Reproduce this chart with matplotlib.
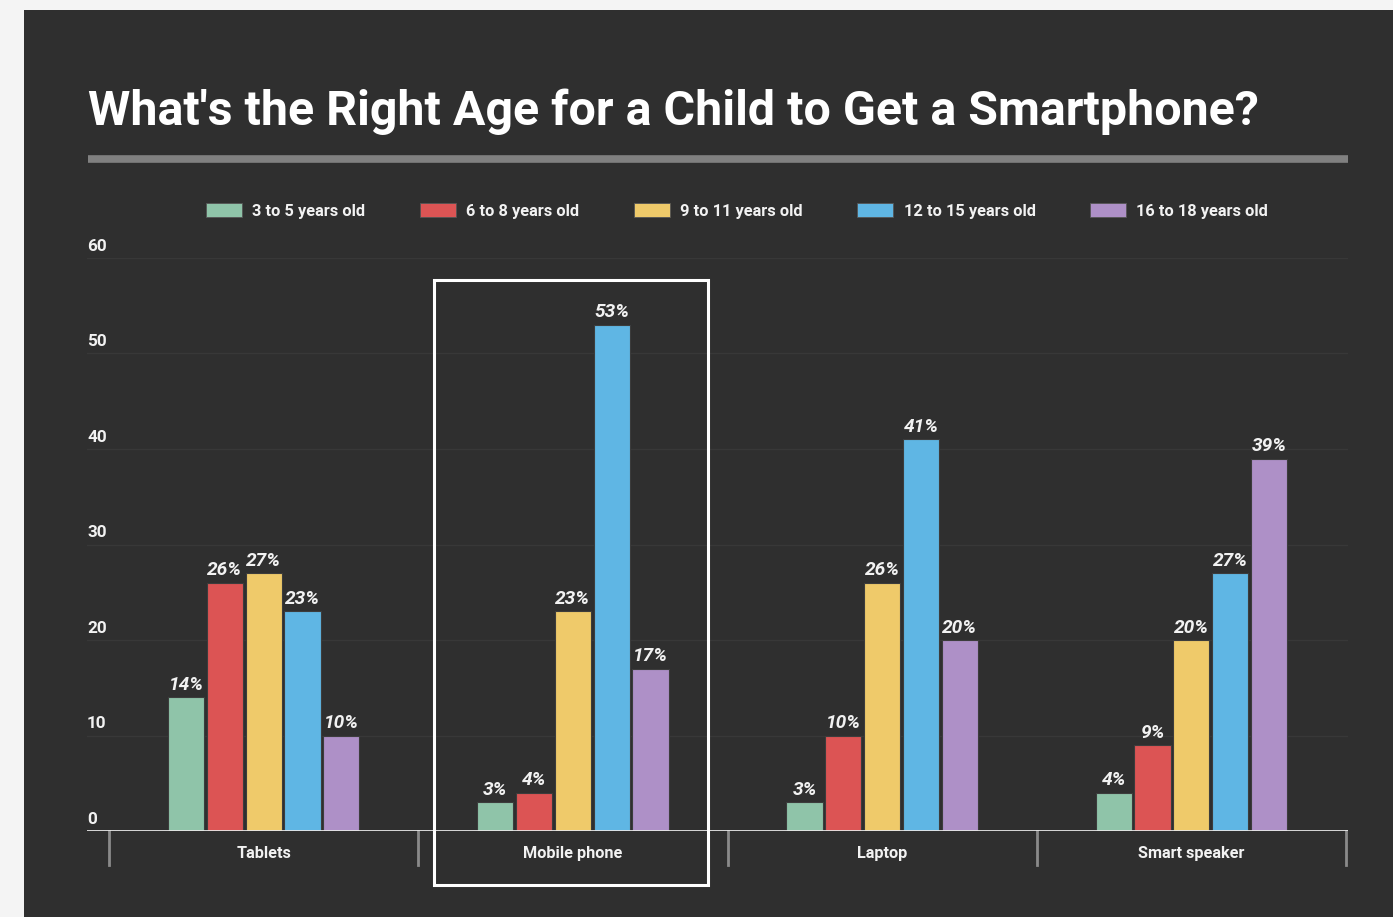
"""
Grouped bar chart: what age parents think is right for a child to get
each kind of device.  Dark card on a light page, rendered to out.png.
"""

import matplotlib

matplotlib.use("Agg")

import matplotlib.pyplot as plt
import numpy as np
from matplotlib.patches import Patch, Rectangle

plt.rcParams["font.family"] = ["Roboto", "DejaVu Sans"]

devices = ["Tablets", "Mobile phone", "Laptop", "Smart speaker"]
age_groups = [
    "3 to 5 years old",
    "6 to 8 years old",
    "9 to 11 years old",
    "12 to 15 years old",
    "16 to 18 years old",
]
# share of respondents (%) per device, one list per age group
age_3_5 = [14, 3, 3, 4]
age_6_8 = [26, 4, 10, 9]
age_9_11 = [27, 23, 26, 20]
age_12_15 = [23, 53, 41, 27]
age_16_18 = [10, 17, 20, 39]
y_ticks = [0, 10, 20, 30, 40, 50, 60]
highlighted = "Mobile phone"

series = [age_3_5, age_6_8, age_9_11, age_12_15, age_16_18]
colors = ["#8fc4a9", "#dc5454", "#efca6a", "#5fb6e4", "#ae90c7"]

PAGE = "#f4f4f4"
CARD = "#2f2f2f"
GRID = "#383838"
TEXT = "#f2f2f2"

fig = plt.figure(figsize=(13.93, 9.17), dpi=100, facecolor=PAGE)

# dark card behind everything
fig.patches.append(
    Rectangle((24 / 1393, 0), 1, 1 - 10 / 917, transform=fig.transFigure,
              facecolor=CARD, edgecolor="none", zorder=-10)
)

fig.text(88 / 1393, 1 - 112 / 917,
         "What's the Right Age for a Child to Get a Smartphone?",
         color="white", fontsize=34.8, fontweight="bold", va="center",
         ha="left")
fig.add_artist(plt.Line2D([88 / 1393, 1348 / 1393],
                          [1 - 159 / 917, 1 - 159 / 917],
                          transform=fig.transFigure, color="#808080", lw=5.5,
                          solid_capstyle="butt"))

ax = fig.add_axes([87 / 1393, 1 - 831 / 917, 1261 / 1393, 573 / 917])
ax.set_facecolor("none")
ax.set_zorder(1)

x = np.arange(len(devices))
n = len(series)
step = 0.1255
width = 0.117
for i, (vals, col, label) in enumerate(zip(series, colors, age_groups)):
    pos = x + (i - (n - 1) / 2) * step
    bars = ax.bar(pos, vals, width=width, color=col, edgecolor="#3c3c3c",
                  linewidth=0.8, label=label, zorder=3)
    for b, v in zip(bars, vals):
        ax.annotate(f"{v}%", (b.get_x() + b.get_width() / 2, v),
                    xytext=(0, 2.5), textcoords="offset points",
                    ha="center", va="bottom", color=TEXT, fontsize=13.8,
                    fontweight="bold", fontstyle="italic", zorder=4)

ax.set_xlim(-0.5 - 22 / 309, 3.5 + 2 / 309)
ax.set_ylim(0, 60)

for s in ax.spines.values():
    s.set_visible(False)
ax.axhline(0, color="#e8e8e8", lw=2, zorder=5)

ax.set_yticks(y_ticks)
ax.set_yticklabels([])
ax.tick_params(axis="y", length=0)
ax.grid(axis="y", color=GRID, lw=1, zorder=0)
for t in y_ticks:
    ax.annotate(str(t), (0, t), xycoords=("axes fraction", "data"),
                xytext=(0, 3), textcoords="offset points",
                ha="left", va="bottom", color=TEXT, fontsize=12.3,
                fontweight="bold")

# category labels centred under each group, separators between them
ax.set_xticks(x)
ax.set_xticklabels(devices, color=TEXT, fontsize=11.7, fontweight="bold")
ax.tick_params(axis="x", length=0, pad=11)
for edge in np.arange(len(devices) + 1) - 0.5:
    ax.plot([edge, edge], [0, -0.06], transform=ax.get_xaxis_transform(),
            color="#8a8a8a", lw=2, clip_on=False, zorder=2)

# frame around the highlighted category
hi = devices.index(highlighted)
ax.add_patch(Rectangle((hi - 0.5 + 16 / 309, -0.094), 274 / 309, 1.056,
                       transform=ax.get_xaxis_transform(), fill=False,
                       edgecolor="white", lw=2.2, clip_on=False, zorder=6))

handles = [Patch(facecolor=c, edgecolor="#555555", lw=0.6) for c in colors]
fig.legend(handles, age_groups, loc="center",
           bbox_to_anchor=(737 / 1393, 1 - 211 / 917), ncol=5, frameon=False,
           handlelength=2.2, handleheight=0.95,
           handletextpad=0.65, columnspacing=3.3,
           prop={"weight": "bold", "size": 11.8}, labelcolor=TEXT)

fig.savefig("out.png", dpi=100, facecolor=PAGE)
plt.close(fig)
